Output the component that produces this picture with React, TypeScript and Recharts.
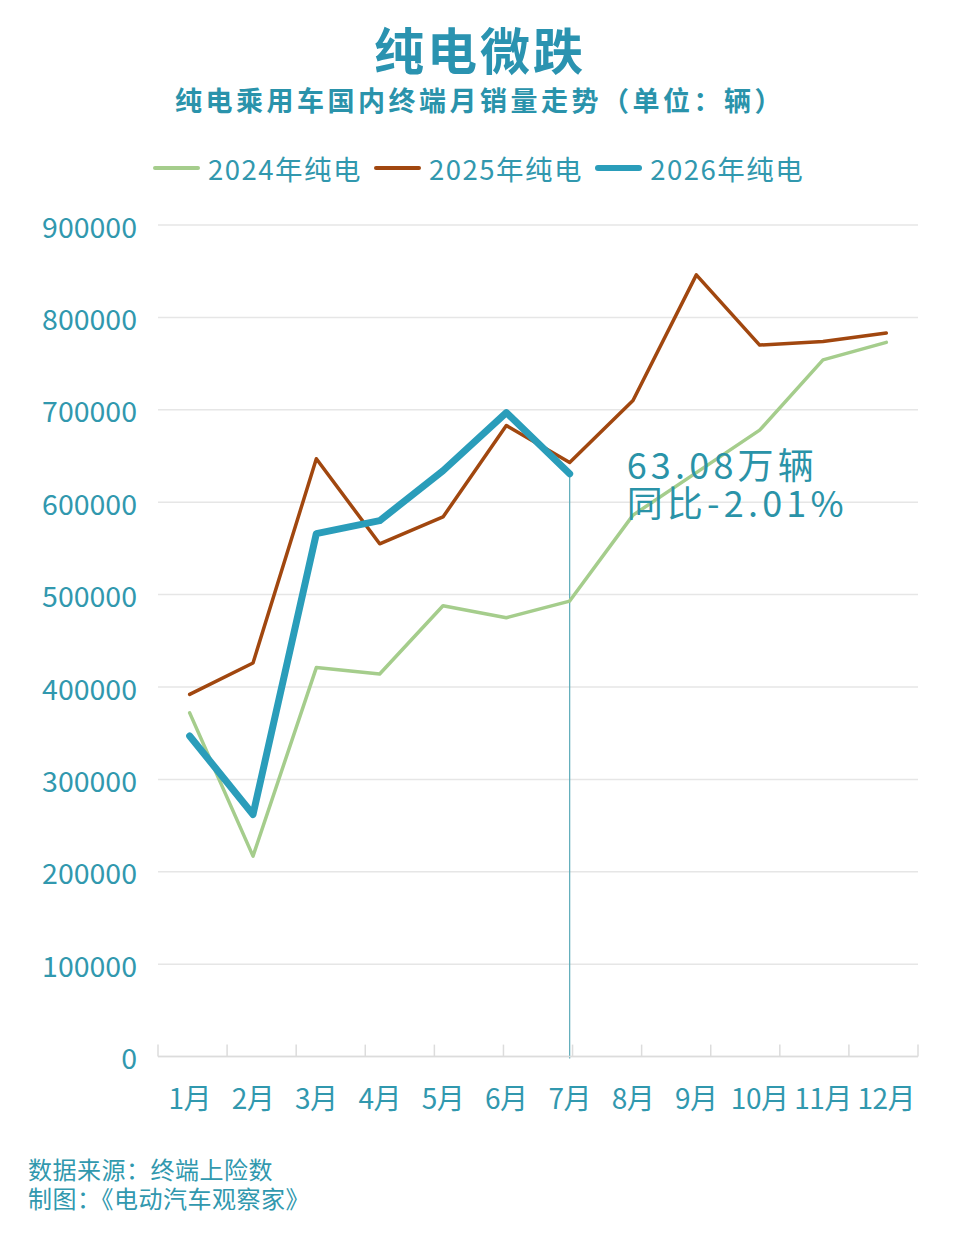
import React from 'react';
import {
  LineChart,
  Line,
  XAxis,
  YAxis,
  CartesianGrid,
  ReferenceLine,
  ReferenceDot,
} from 'recharts';

const months = ['1月', '2月', '3月', '4月', '5月', '6月', '7月', '8月', '9月', '10月', '11月', '12月'];
const sales2024 = [372000, 217000, 421000, 414000, 488000, 475000, 493000, 586000, 632000, 678000, 754000, 773000];
const sales2025 = [392000, 426000, 647000, 555000, 584000, 683000, 643000, 710000, 846000, 770000, 774000, 783000];
const sales2026: (number | null)[] = [347000, 262000, 566000, 580000, 634000, 697000, 630800, null, null, null, null, null];
const yTicks = [0, 100000, 200000, 300000, 400000, 500000, 600000, 700000, 800000, 900000];
const boundaryTicks = [0, 1, 2, 3, 4, 5, 6, 7, 8, 9, 10, 11, 12];

const title = '纯电微跌';
const subtitle = '纯电乘用车国内终端月销量走势（单位：辆）';
const annotationMonth = '7月';
const annotationValue = 630800;
const annotationLines = ['63.08万辆', '同比-2.01%'];
const sourceLines = ['数据来源：终端上险数', '制图：《电动汽车观察家》'];

const series = [
  { key: 's2024', name: '2024年纯电', color: '#a5cd8c', width: 3.5 },
  { key: 's2025', name: '2025年纯电', color: '#a1470f', width: 3.5 },
  { key: 's2026', name: '2026年纯电', color: '#2a9dba', width: 7 },
];

const data = months.map((m, i) => ({
  month: m,
  s2024: sales2024[i],
  s2025: sales2025[i],
  s2026: sales2026[i],
}));

const TEXT = '#3198ae';
const FONT = '"Noto Sans CJK SC", "Noto Sans", sans-serif';

const YTick = (props: any) => {
  const { x, y, payload } = props;
  return (
    <text x={x} y={y} textAnchor="end" dominantBaseline="central" fill={TEXT} fontSize={28.5} fontFamily={FONT}>
      {payload.value}
    </text>
  );
};

const XTick = (props: any) => {
  const { x, y, payload } = props;
  return (
    <text x={x} y={y} textAnchor="middle" dominantBaseline="central" fill={TEXT} fontSize={28} fontFamily={FONT} letterSpacing={-0.5}>
      {payload.value}
    </text>
  );
};

const EmptyTick = () => <g />;

const AnnotationLabel = (props: any) => {
  const vb = props.viewBox || {};
  const cx = (vb.x ?? 0) + (vb.width ?? 0) / 2;
  const cy = (vb.y ?? 0) + (vb.height ?? 0) / 2;
  const tx = cx + 57;
  return (
    <foreignObject x={tx} y={cy - 30} width={300} height={80}>
      <div
        style={{
          fontFamily: FONT,
          fontSize: 36,
          lineHeight: '38px',
          letterSpacing: 4.2,
          color: '#2a93a8',
          whiteSpace: 'pre',
        }}
      >
        {annotationLines.join('\n')}
      </div>
    </foreignObject>
  );
};

export default function App() {
  return (
    <div
      style={{
        position: 'absolute',
        left: 0,
        top: 0,
        width: 960,
        height: 1235,
        background: '#ffffff',
        fontFamily: FONT,
        overflow: 'hidden',
      }}
    >
      <div
        style={{
          position: 'absolute',
          top: 14,
          left: 0,
          width: 960,
          textAlign: 'center',
          fontSize: 50,
          fontWeight: 700,
          color: '#2a93b0',
          letterSpacing: 3,
          lineHeight: '68px',
        }}
      >
        {title}
      </div>
      <div
        style={{
          position: 'absolute',
          top: 82,
          left: 0,
          width: 960,
          textAlign: 'center',
          fontSize: 27,
          fontWeight: 700,
          color: '#2a93ab',
          letterSpacing: 3.5,
          lineHeight: '36px',
        }}
      >
        {subtitle}
      </div>
      <div
        style={{
          position: 'absolute',
          top: 148,
          left: 153,
          height: 40,
          display: 'flex',
          alignItems: 'center',
        }}
      >
        {series.map((s) => (
          <div key={s.key} style={{ display: 'flex', alignItems: 'center', marginRight: 12 }}>
            <div style={{ width: 47, height: s.width === 7 ? 6 : 4, background: s.color, borderRadius: 3 }} />
            <span style={{ marginLeft: 8, fontSize: 27.5, color: TEXT, letterSpacing: 1.5, lineHeight: '40px' }}>{s.name}</span>
          </div>
        ))}
      </div>

      <div style={{ position: 'absolute', left: 0, top: 0 }}>
        <LineChart
          width={960}
          height={1235}
          data={data}
          margin={{ top: 225, right: 42, bottom: 118.4, left: 58 }}
        >
          <CartesianGrid horizontal vertical={false} stroke="#e6e6e6" strokeWidth={1.5} />
          <XAxis
            xAxisId="b"
            type="number"
            domain={[0, 12]}
            ticks={boundaryTicks}
            tick={<EmptyTick />}
            height={1}
            mirror
            tickSize={12}
            interval={0}
            axisLine={{ stroke: '#dcdcdc', strokeWidth: 1.5 }}
            tickLine={{ stroke: '#dcdcdc', strokeWidth: 1.5 }}
          />
          <XAxis
            xAxisId="cat"
            dataKey="month"
            type="category"
            height={60}
            padding={{ left: 31.67, right: 31.67 }}
            axisLine={false}
            tickLine={false}
            tickSize={0}
            tickMargin={40}
            tick={<XTick />}
            interval={0}
          />
          <YAxis
            width={100}
            domain={[0, 900000]}
            ticks={yTicks}
            axisLine={false}
            tickLine={false}
            tickSize={0}
            tickMargin={21}
            tick={<YTick />}
            interval={0}
          />
          <ReferenceLine
            xAxisId="cat"
            segment={[
              { x: annotationMonth, y: -2000 },
              { x: annotationMonth, y: annotationValue },
            ]}
            stroke="#5aaab8"
            strokeWidth={1.2}
            ifOverflow="visible"
          />
          {series.map((s) => (
            <Line
              key={s.key}
              xAxisId="cat"
              type="linear"
              dataKey={s.key}
              name={s.name}
              stroke={s.color}
              strokeWidth={s.width}
              dot={false}
              activeDot={false}
              connectNulls={false}
              isAnimationActive={false}
              strokeLinejoin="round"
              strokeLinecap="round"
            />
          ))}
          <ReferenceDot
            xAxisId="cat"
            x={annotationMonth}
            y={annotationValue}
            r={0}
            fill="none"
            stroke="none"
            label={<AnnotationLabel />}
          />
        </LineChart>
      </div>

      <div
        style={{
          position: 'absolute',
          left: 28,
          top: 1153.5,
          fontSize: 24,
          letterSpacing: 0.5,
          color: TEXT,
          lineHeight: '29.5px',
          whiteSpace: 'pre',
        }}
      >
        {sourceLines.join('\n')}
      </div>
    </div>
  );
}
